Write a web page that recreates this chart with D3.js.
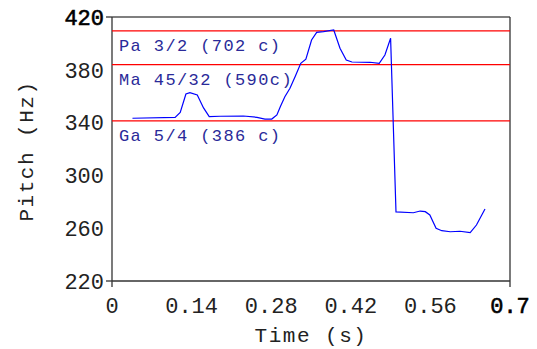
<!DOCTYPE html>
<html>
<head>
<meta charset="utf-8">
<script src="https://cdn.jsdelivr.net/npm/d3@7"></script>
<style>
  body { margin: 0; background: #fff; }
  text { font-family: "Liberation Mono", "Courier New", monospace; }
</style>
</head>
<body>
<div id="chart"></div>
<script>
// ---------------------------------------------------------------------------
// DATA
// ---------------------------------------------------------------------------

const timeS = [0.036, 0.111, 0.120, 0.130, 0.137, 0.150, 0.161, 0.171, 0.190, 0.231,
               0.255, 0.269, 0.281, 0.290, 0.296, 0.304, 0.313, 0.322, 0.332, 0.341,
               0.351, 0.360, 0.372, 0.390, 0.401, 0.412, 0.422, 0.454, 0.470, 0.480,
               0.490, 0.4995, 0.530, 0.542, 0.551, 0.559, 0.570, 0.580, 0.595, 0.612,
               0.630, 0.641, 0.656];
const pitchHz = [343.3, 344.0, 347.8, 361.7, 362.7, 360.9, 351.1, 344.5, 344.8, 345.0,
                 344.0, 342.7, 342.7, 345.8, 352.0, 359.6, 366.0, 374.8, 384.9, 388.0,
                 402.6, 408.4, 408.9, 410.2, 396.3, 387.4, 385.9, 385.7, 384.9, 391.2,
                 403.9, 272.3, 271.7, 273.0, 272.5, 270.0, 259.9, 258.1, 257.3, 257.7,
                 256.6, 262.4, 274.5];

const swaraNames  = ["Pa 3/2 (702 c)", "Ma 45/32 (590c)", "Ga 5/4 (386 c)"];
const swaraHz     = [409.5, 383.9, 341.25];

const yTicks = [220, 260, 300, 340, 380, 420];
const xTicks = [0, 0.14, 0.28, 0.42, 0.56, 0.7];

// ---------------------------------------------------------------------------
// SETUP
// ---------------------------------------------------------------------------

const W = 537, H = 349;
const margin = { top: 17, right: 27, bottom: 68, left: 112 };
const width  = W - margin.left - margin.right;
const height = H - margin.top  - margin.bottom;

const svg = d3.select("#chart").append("svg")
    .attr("width", W)
    .attr("height", H);

const g = svg.append("g")
    .attr("transform", `translate(${margin.left},${margin.top})`);

const x = d3.scaleLinear().domain([0, 0.7]).range([0, width]);
const y = d3.scaleLinear().domain([220, 420]).range([height, 0]);

// frame
g.append("line").attr("x1", 0).attr("x2", width).attr("y1", 0).attr("y2", 0)
    .attr("stroke", "#555").attr("stroke-width", 1.3);
g.append("line").attr("x1", width).attr("x2", width).attr("y1", 0).attr("y2", height + 6)
    .attr("stroke", "#333").attr("stroke-width", 1.3);
g.append("line").attr("x1", 0).attr("x2", 0).attr("y1", 0).attr("y2", height + 6)
    .attr("stroke", "#333").attr("stroke-width", 1.3);
g.append("line").attr("x1", 0).attr("x2", width).attr("y1", height).attr("y2", height)
    .attr("stroke", "#333").attr("stroke-width", 1.3);

// end ticks on y
[420, 220].forEach(v => {
    g.append("line").attr("x1", -6).attr("x2", 0).attr("y1", y(v)).attr("y2", y(v))
        .attr("stroke", "#333").attr("stroke-width", 1.3);
});

// tick labels (end values drawn a touch heavier)
g.selectAll("text.ytick")
    .data(yTicks)
    .join("text")
    .attr("class", "ytick")
    .attr("x", -8)
    .attr("y", d => y(d))
    .attr("dy", "0.35em")
    .attr("text-anchor", "end")
    .style("font-size", "22px")
    .attr("fill", d => d === 420 ? "#000" : "#222")
    .attr("stroke", d => d === 420 ? "#000" : "none")
    .attr("stroke-width", 0.6)
    .text(d => d);

g.selectAll("text.xtick")
    .data(xTicks)
    .join("text")
    .attr("class", "xtick")
    .attr("x", d => x(d))
    .attr("y", height + 32)
    .attr("text-anchor", "middle")
    .style("font-size", "22px")
    .attr("fill", d => d === 0.7 ? "#000" : "#222")
    .attr("stroke", d => d === 0.7 ? "#000" : "none")
    .attr("stroke-width", 0.6)
    .text(d => d);

// axis titles
svg.append("text")
    .attr("transform", "rotate(-90)")
    .attr("x", -151)
    .attr("y", 33)
    .attr("text-anchor", "middle")
    .style("font-size", "21px")
    .style("letter-spacing", "1.5px")
    .attr("fill", "#222")
    .text("Pitch (Hz)");

svg.append("text")
    .attr("x", 311)
    .attr("y", 342)
    .attr("text-anchor", "middle")
    .style("font-size", "21px")
    .style("letter-spacing", "1.5px")
    .attr("fill", "#222")
    .text("Time (s)");

// swara reference lines
g.selectAll("line.swara")
    .data(swaraHz)
    .join("line")
    .attr("class", "swara")
    .attr("x1", 0).attr("x2", width)
    .attr("y1", d => y(d)).attr("y2", d => y(d))
    .attr("stroke", "#ff0000")
    .attr("stroke-width", 1.2);

g.selectAll("text.swara-label")
    .data(swaraNames)
    .join("text")
    .attr("class", "swara-label")
    .attr("x", 7)
    .attr("y", (d, i) => y(swaraHz[i]) + 20)
    .style("font-size", "17px")
    .style("letter-spacing", "1.4px")
    .attr("fill", "#2a2a99")
    .text(d => d);

// pitch contour
const line = d3.line()
    .x((d, i) => x(timeS[i]))
    .y(d => y(d));

g.append("path")
    .datum(pitchHz)
    .attr("fill", "none")
    .attr("stroke", "#0000ff")
    .attr("stroke-width", 1.2)
    .attr("d", line);
</script>
</body>
</html>
